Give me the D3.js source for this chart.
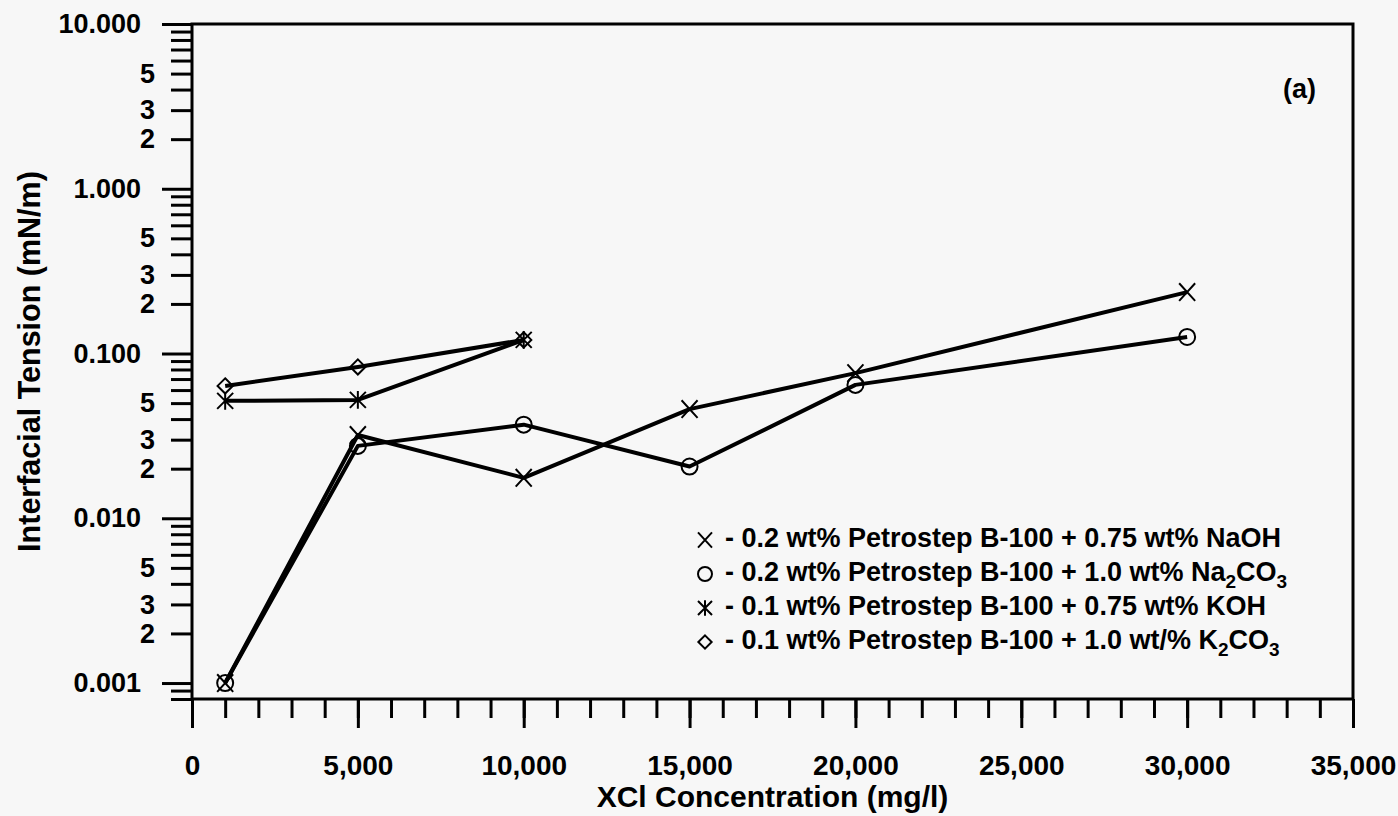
<!DOCTYPE html>
<html>
<head>
<meta charset="utf-8">
<script src="https://cdn.jsdelivr.net/npm/d3@7"></script>
<style>
    html, body { margin: 0; padding: 0; background: #f7f7f7; }
    svg { display: block; font-family: "Liberation Sans", Arial, sans-serif; font-weight: bold; }
</style>
</head>
<body>
<div id="chart"></div>
<script>
// XCl concentration (mg/l) for each series
const concNa = [1000, 5000, 10000, 15000, 20000, 30000];
const concK = [1000, 5000, 10000];

// Interfacial tension (mN/m)
const iftNaOH = [0.001, 0.032, 0.0176, 0.046, 0.076, 0.236];
const iftNa2CO3 = [0.001, 0.0275, 0.037, 0.0206, 0.0645, 0.126];
const iftKOH = [0.0516, 0.0523, 0.121];
const iftK2CO3 = [0.0636, 0.0829, 0.121];

// Legend text ( [text, isSubscript] pieces )
const legendLabels = [
    [["- 0.2 wt% Petrostep B-100 + 0.75 wt% NaOH", false]],
    [["- 0.2 wt% Petrostep B-100 + 1.0 wt% Na", false], ["2", true], ["CO", false], ["3", true]],
    [["- 0.1 wt% Petrostep B-100 + 0.75 wt% KOH", false]],
    [["- 0.1 wt% Petrostep B-100 + 1.0 wt/% K", false], ["2", true], ["CO", false], ["3", true]]
];
const markerKinds = ["cross", "circle", "star", "diamond"];

// Tick values
const xMajorTicks = [0, 5000, 10000, 15000, 20000, 25000, 30000, 35000];
const xMinorTicks = d3.range(0, 35001, 1000);
const yMajorTicks = [0.001, 0.01, 0.1, 1, 10];
const yLabelledMinor = [2, 3, 5];

const width = 1398, height = 816;
const plot = { left: 192, right: 1353, top: 24, bottom: 699 };

const svg = d3.select("#chart").append("svg")
    .attr("width", width)
    .attr("height", height);

// Scales
const x = d3.scaleLinear().domain([0, 35000]).range([plot.left, plot.right]);
const y = d3.scaleLog().domain([0.0008, 10]).range([plot.bottom, plot.top]);

// Minor y ticks: 2..9 in every decade plus 0.0008/0.0009 under the last one
const yMinorTicks = [0.0008, 0.0009];
[0.001, 0.01, 0.1, 1].forEach(d => {
    for (let k = 2; k <= 9; k++) yMinorTicks.push(+(d * k).toPrecision(3));
});

// X axis (minor then major)
svg.append("g")
    .attr("transform", `translate(0,${plot.bottom})`)
    .call(d3.axisBottom(x).tickValues(xMinorTicks).tickSize(19).tickSizeOuter(0).tickFormat(""))
    .call(g => g.select(".domain").remove());

const xAxis = svg.append("g")
    .attr("transform", `translate(0,${plot.bottom})`)
    .call(d3.axisBottom(x).tickValues(xMajorTicks).tickSize(29).tickSizeOuter(0).tickFormat(d3.format(",")))
    .call(g => g.select(".domain").remove());
xAxis.selectAll("text")
    .attr("y", 76).attr("dy", null)
    .style("font-size", "28px");

// Y axis (minor then major)
svg.append("g")
    .attr("transform", `translate(${plot.left},0)`)
    .call(d3.axisLeft(y).tickValues(yMinorTicks).tickSize(21).tickPadding(16).tickSizeOuter(0)
        .tickFormat(d => {
            const m = Math.round(d / Math.pow(10, Math.floor(Math.log10(d) + 1e-9)));
            return yLabelledMinor.includes(m) && d > 0.001 ? m : "";
        }))
    .call(g => g.select(".domain").remove())
    .selectAll("text").style("font-size", "27px");

svg.append("g")
    .attr("transform", `translate(${plot.left},0)`)
    .call(d3.axisLeft(y).tickValues(yMajorTicks).tickSize(30).tickPadding(21).tickSizeOuter(0)
        .tickFormat(d3.format(".3f")))
    .call(g => g.select(".domain").remove())
    .selectAll("text").style("font-size", "27px");

svg.selectAll(".tick line").attr("stroke", "#000").attr("stroke-width", 3);
svg.selectAll(".tick text").attr("fill", "#000");

// Plot frame
svg.append("rect")
    .attr("x", plot.left).attr("y", plot.top)
    .attr("width", plot.right - plot.left).attr("height", plot.bottom - plot.top)
    .attr("fill", "none").attr("stroke", "#000").attr("stroke-width", 3);

// Marker shapes
function marker(g, kind, s) {
    if (kind === "cross") {
        g.append("path").attr("d", `M${-s},${-s * 1.1}L${s},${s * 1.1}M${-s},${s * 1.1}L${s},${-s * 1.1}`);
    } else if (kind === "star") {
        g.append("path").attr("d", `M${-s},${-s}L${s},${s}M${-s},${s}L${s},${-s}M0,${-s * 1.1}L0,${s * 1.1}`);
    } else if (kind === "circle") {
        g.append("circle").attr("r", s);
    } else {
        const d = s * 0.95;
        g.append("path").attr("d", `M0,${-d}L${d},0L0,${d}L${-d},0Z`);
    }
    g.attr("fill", "none").attr("stroke", "#000").attr("stroke-width", 2);
}

// Series
const series = [
    { xs: concNa, ys: iftNaOH, kind: "cross" },
    { xs: concNa, ys: iftNa2CO3, kind: "circle" },
    { xs: concK, ys: iftKOH, kind: "star" },
    { xs: concK, ys: iftK2CO3, kind: "diamond" }
];

const line = d3.line().x(d => x(d[0])).y(d => y(d[1]));

series.forEach(s => {
    const pts = s.xs.map((v, i) => [v, s.ys[i]]);
    svg.append("path")
        .datum(pts)
        .attr("d", line)
        .attr("fill", "none")
        .attr("stroke", "#000")
        .attr("stroke-width", 4)
        .attr("stroke-linejoin", "round");
    pts.forEach(p => {
        const g = svg.append("g").attr("transform", `translate(${x(p[0])},${y(p[1])})`);
        marker(g, s.kind, 8);
    });
});

// Legend
const legend = svg.append("g");
legendLabels.forEach((parts, i) => {
    const base = 547 + i * 34;
    const g = legend.append("g").attr("transform", `translate(705,${base - 7})`);
    marker(g, markerKinds[i], 7);
    const t = legend.append("text")
        .attr("x", 725).attr("y", base)
        .style("font-size", "27px");
    let down = false;
    parts.forEach(([txt, sub]) => {
        const ts = t.append("tspan").text(txt);
        if (sub && !down) { ts.attr("dy", 7).style("font-size", "19px"); down = true; }
        else if (sub) { ts.style("font-size", "19px"); }
        else if (down) { ts.attr("dy", -7); down = false; }
    });
});

// Panel label
svg.append("text")
    .attr("x", 1316).attr("y", 98)
    .attr("text-anchor", "end")
    .style("font-size", "27px")
    .text("(a)");

// Axis titles
svg.append("text")
    .attr("x", (plot.left + plot.right) / 2).attr("y", 807)
    .attr("text-anchor", "middle")
    .style("font-size", "30px")
    .text("XCl Concentration (mg/l)");

svg.append("text")
    .attr("transform", `translate(40,${(plot.top + plot.bottom) / 2}) rotate(-90)`)
    .attr("text-anchor", "middle")
    .style("font-size", "30.5px")
    .text("Interfacial Tension (mN/m)");
</script>
</body>
</html>
